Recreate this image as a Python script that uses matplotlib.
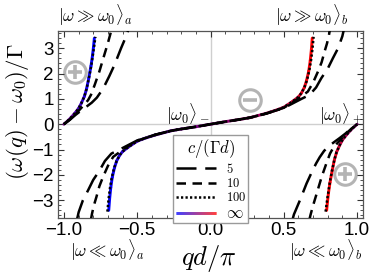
import numpy as np
import matplotlib
matplotlib.use("Agg")
import matplotlib.pyplot as plt
from matplotlib.collections import LineCollection
from matplotlib.colors import LinearSegmentedColormap
from matplotlib.legend_handler import HandlerBase
from matplotlib.lines import Line2D

plt.rcParams['mathtext.fontset'] = 'cm'
plt.rcParams['font.family'] = ['Liberation Sans', 'DejaVu Sans']

# ---------------- data ----------------
# Upper-left branch (from |omega0>_a region up to |omega >> omega0>_a), per c/(Gamma d)
ul_x_inf = [-1.0, -0.965, -0.93, -0.90, -0.88, -0.86, -0.845, -0.83, -0.815, -0.805, -0.798, -0.792]
ul_y_inf = [0.0, 0.18, 0.40, 0.62, 0.84, 1.10, 1.40, 1.82, 2.30, 2.70, 3.05, 3.40]
ul_x_100 = [-1.0, -0.965, -0.93, -0.90, -0.88, -0.86, -0.845, -0.83, -0.814, -0.803, -0.794, -0.785]
ul_y_100 = [0.0, 0.18, 0.40, 0.62, 0.84, 1.10, 1.40, 1.80, 2.28, 2.70, 3.05, 3.45]
ul_x_10 = [-1.0, -0.96, -0.92, -0.885, -0.86, -0.835, -0.815, -0.79, -0.758, -0.724, -0.70, -0.683, -0.675]
ul_y_10 = [0.0, 0.18, 0.40, 0.62, 0.78, 0.95, 1.16, 1.55, 2.08, 2.74, 3.20, 3.56, 3.75]
ul_x_5 = [-1.0, -0.96, -0.92, -0.88, -0.849, -0.81, -0.775, -0.745, -0.72, -0.69, -0.655, -0.61, -0.569, -0.56]
ul_y_5 = [0.0, 0.17, 0.37, 0.55, 0.68, 0.85, 1.05, 1.30, 1.55, 1.90, 2.34, 3.00, 3.56, 3.75]

# Central branch, positive half (|omega0>_- to |omega >> omega0>_b)
c_x_inf = [0.0, 0.10, 0.20, 0.27, 0.38, 0.45, 0.50, 0.56, 0.60, 0.62, 0.64, 0.655, 0.67, 0.68, 0.688, 0.694]
c_y_inf = [0.0, 0.10, 0.19, 0.26, 0.43, 0.56, 0.67, 0.90, 1.08, 1.23, 1.45, 1.72, 2.10, 2.50, 2.95, 3.40]
c_x_100 = [0.0, 0.10, 0.20, 0.27, 0.38, 0.45, 0.50, 0.56, 0.60, 0.62, 0.64, 0.657, 0.673, 0.685, 0.695, 0.703]
c_y_100 = [0.0, 0.10, 0.19, 0.26, 0.43, 0.56, 0.67, 0.90, 1.08, 1.23, 1.45, 1.72, 2.10, 2.50, 2.95, 3.45]
c_x_10 = [0.0, 0.10, 0.20, 0.27, 0.38, 0.50, 0.56, 0.62, 0.664, 0.70, 0.733, 0.758, 0.778, 0.795, 0.808, 0.815]
c_y_10 = [0.0, 0.10, 0.19, 0.26, 0.42, 0.65, 0.86, 1.10, 1.29, 1.65, 2.08, 2.45, 2.87, 3.20, 3.53, 3.75]
c_x_5 = [0.0, 0.10, 0.20, 0.27, 0.38, 0.50, 0.56, 0.62, 0.676, 0.72, 0.756, 0.80, 0.835, 0.87, 0.899, 0.91]
c_y_5 = [0.0, 0.10, 0.19, 0.26, 0.42, 0.64, 0.82, 1.00, 1.16, 1.45, 1.82, 2.20, 2.61, 3.00, 3.47, 3.75]

c_labels = [r'$5$', r'$10$', r'$100$', r'$\infty$']

# annotation symbols (circled signs)
sign_x = [-0.924, 0.266, 0.92]
sign_y = [2.08, 0.95, -1.95]
sign_kind = ['+', '-', '+']


def full_curves(ulx, uly, cx, cy):
    """Return the three branches; lower-right and lower-centre by point symmetry."""
    ulx, uly, cx, cy = map(np.asarray, (ulx, uly, cx, cy))
    upper_left = (ulx, uly)
    centre = (np.concatenate([-cx[::-1], cx[1:]]), np.concatenate([-cy[::-1], cy[1:]]))
    lower_right = (-ulx[::-1], -uly[::-1])
    return [upper_left, centre, lower_right]


cmap = LinearSegmentedColormap.from_list('br', ['#0000ff', '#ff0000'])

fig = plt.figure(figsize=(3.74, 2.75), dpi=100)
ax = fig.add_axes([58/374, 1-217.7/275, 305/374, 186.7/275])
ax.set_xlim(-1.04, 1.04)
ax.set_ylim(-3.69, 3.68)

ax.axhline(0, color='#cfcfcf', lw=1.0, zorder=0)
ax.axvline(0, color='#cfcfcf', lw=1.0, zorder=0)

LW = 1.8

# gradient (c -> infinity)
for bx, by in full_curves(ul_x_inf, ul_y_inf, c_x_inf, c_y_inf):
    pts = np.column_stack([bx, by])
    segs = np.stack([pts[:-1], pts[1:]], axis=1)
    mx = 0.5*(pts[:-1, 0]+pts[1:, 0])
    my = 0.5*(pts[:-1, 1]+pts[1:, 1])
    t = 0.5 + 0.5*np.sign(mx)*np.tanh(np.abs(my)/1.3)
    lc = LineCollection(segs, cmap=cmap, norm=plt.Normalize(0, 1), linewidths=LW+0.3,
                        capstyle='round', joinstyle='round', zorder=2)
    lc.set_array(t)
    ax.add_collection(lc)

styles = {
    '5': dict(dashes=(8, 3.5)),
    '10': dict(dashes=(3.8, 2.6)),
    '100': dict(dashes=(0.9, 0.9)),
}
for key, (ulx, uly, cx, cy) in {
        '5': (ul_x_5, ul_y_5, c_x_5, c_y_5),
        '10': (ul_x_10, ul_y_10, c_x_10, c_y_10),
        '100': (ul_x_100, ul_y_100, c_x_100, c_y_100)}.items():
    for bx, by in full_curves(ulx, uly, cx, cy):
        ax.plot(bx, by, color='black', lw=LW, zorder=3, **styles[key])

# circled signs
for sx, sy, k in zip(sign_x, sign_y, sign_kind):
    ax.plot([sx], [sy], marker='o', ms=15.5, mfc='none', mec='#b4b4b4', mew=2.2, zorder=1)
    ax.plot([sx], [sy], marker='+' if k == '+' else '_', ms=10, mec='#b4b4b4', mew=2.6, zorder=1)

# ticks
ax.set_xticks([-1.0, -0.5, 0.0, 0.5, 1.0])
ax.set_xticklabels(['\u22121.0', '\u22120.5', '0.0', '0.5', '1.0'])
ax.set_yticks([-3, -2, -1, 0, 1, 2, 3])
ax.set_yticklabels(['\u22123', '\u22122', '\u22121', '0', '1', '2', '3'])
ax.set_xticks(np.arange(-1.0, 1.01, 0.1), minor=True)
ax.set_yticks(np.arange(-3.6, 3.61, 0.2), minor=True)
ax.tick_params(which='both', direction='in', top=True, right=True, color='#333333')
ax.tick_params(which='major', length=4, width=0.8, labelsize=13.5, pad=3)
ax.tick_params(which='minor', length=2.2, width=0.6)
for s in ax.spines.values():
    s.set_color('#555555')
    s.set_linewidth(0.9)


# legend
class GradProxy:
    pass


class HandlerGradient(HandlerBase):
    def create_artists(self, legend, orig_handle, xdescent, ydescent, width, height, fontsize, trans):
        n = 40
        xs = np.linspace(-xdescent, width - xdescent, n + 1)
        y = height / 2 - ydescent
        segs = [[(xs[i], y), (xs[i + 1], y)] for i in range(n)]
        lc = LineCollection(segs, cmap=cmap, norm=plt.Normalize(0, 1), linewidths=LW + 0.3,
                            transform=trans)
        lc.set_array(np.linspace(0, 1, n))
        return [lc]


gp = GradProxy()
handles = [Line2D([], [], color='black', lw=LW, **styles['5']),
           Line2D([], [], color='black', lw=LW, **styles['10']),
           Line2D([], [], color='black', lw=LW, **styles['100']),
           gp]
leg = ax.legend(handles, c_labels, title=r'$c/(\Gamma d)$', handler_map={gp: HandlerGradient()},
                loc='upper left', bbox_to_anchor=((173-58)/305, 1-(135-31)/186.7),
                borderaxespad=0, fontsize=9, title_fontsize=12, handlelength=3.2,
                handletextpad=0.8, labelspacing=0.1, borderpad=0.2, fancybox=False,
                framealpha=1, edgecolor='#9a9a9a')
leg.get_frame().set_linewidth(1.0)
leg.get_texts()[3].set_fontsize(12)
leg.set_zorder(5)

# text annotations
def fx(px):
    return px/374

def fy(py):
    return 1 - py/275

fig.text(fx(95), fy(15), r'$|\omega \gg \omega_0\rangle_a$', fontsize=12.5, ha='center', va='center')
fig.text(fx(312), fy(15), r'$|\omega \gg \omega_0\rangle_b$', fontsize=12.5, ha='center', va='center')
fig.text(fx(107), fy(250), r'$|\omega \ll \omega_0\rangle_a$', fontsize=12.5, ha='center', va='center')
fig.text(fx(326), fy(250), r'$|\omega \ll \omega_0\rangle_b$', fontsize=12.5, ha='center', va='center')
fig.text(fx(188), fy(114), r'$|\omega_0\rangle_-$', fontsize=12.5, ha='center', va='center')
fig.text(fx(341), fy(114), r'$|\omega_0\rangle_+$', fontsize=12.5, ha='center', va='center')
fig.text(fx(209), fy(258), r'$qd/\pi$', fontsize=19, ha='center', va='center')
fig.text(fx(18), fy(112), r'$(\omega(q)-\omega_0)/\Gamma$', fontsize=16.5, ha='center', va='center',
         rotation=90)

fig.savefig('out.png', dpi=100)
